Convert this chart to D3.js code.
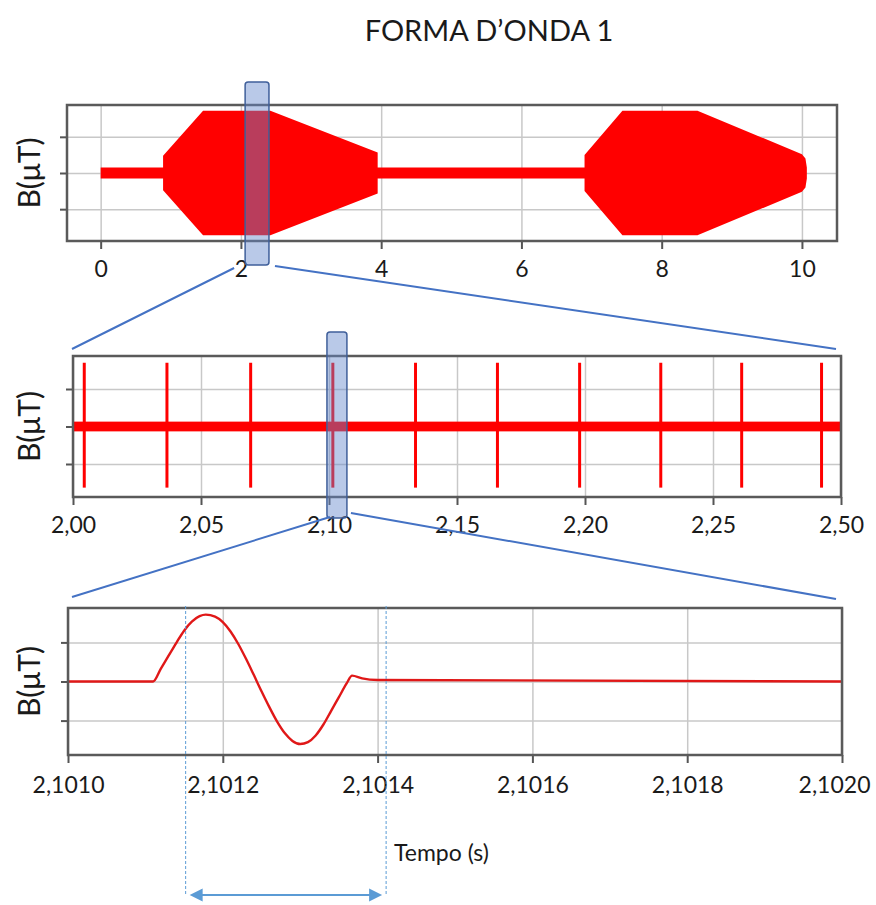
<!DOCTYPE html>
<html>
<head>
<meta charset="utf-8">
<script src="https://cdn.jsdelivr.net/npm/d3@7"></script>
<style>
  body { margin: 0; background: #fff; }
  text { font-family: Lato, "Noto Sans", sans-serif; fill: #1a1a1a; }
</style>
</head>
<body>
<script>
// panel 1: envelope of the burst signal (half amplitude, symmetric)
var envTime = [0, 0.89, 0.89, 1.46, 2.42, 3.95, 3.95, 6.9, 6.9, 7.44, 8.51, 10.0, 10.05, 10.07];
var envAmp  = [0.15, 0.15, 0.48, 1.72, 1.72, 0.57, 0.15, 0.15, 0.5, 1.72, 1.72, 0.52, 0.4, 0.15];
var ticks1  = [0, 2, 4, 6, 8, 10];
var labels1 = ["0", "2", "4", "6", "8", "10"];

// panel 2: single pulses on the baseline
var pulseTime = [2.0044, 2.0367, 2.0694, 2.1015, 2.1338, 2.1658, 2.1979, 2.2296, 2.2612, 2.2924];
var pulseTop = 1.7, pulseBottom = -1.63;
var noise2 = 0.13;
var ticks2  = [2.00, 2.05, 2.10, 2.15, 2.20, 2.25, 2.30];
var labels2 = ["2,00", "2,05", "2,10", "2,15", "2,20", "2,25", "2,50"];

// panel 3: one pulse
var waveTime = [2.10100, 2.10111, 2.10112, 2.10113, 2.10114, 2.10115, 2.10116, 2.10117, 2.101178,
                2.10119, 2.10120, 2.10121, 2.10122, 2.10123, 2.10124, 2.10125, 2.10126, 2.10127,
                2.10128, 2.10129, 2.10130, 2.10131, 2.10132, 2.10133, 2.10134, 2.10135, 2.10136,
                2.101367, 2.10138, 2.10140, 2.10200];
var waveVal  = [0, 0, 0.33, 0.66, 0.99, 1.30, 1.53, 1.67, 1.71,
                1.66, 1.52, 1.28, 0.96, 0.58, 0.17, -0.25, -0.65, -1.02,
                -1.32, -1.52, -1.60, -1.55, -1.38, -1.10, -0.75, -0.40, -0.05,
                0.15, 0.08, 0.04, 0];
var ticks3  = [2.1010, 2.1012, 2.1014, 2.1016, 2.1018, 2.1020];
var labels3 = ["2,1010", "2,1012", "2,1014", "2,1016", "2,1018", "2,1020"];
var markTime = [2.101152, 2.101411];

// zoom windows
var hl1 = [2.06, 2.40];
var hl2 = [2.0992, 2.1070];

var yTicks = [-1, 0, 1];
var yDomain = [-1.88, 1.88];

var svg = d3.select("body").append("svg")
  .attr("width", 876)
  .attr("height", 905);

svg.append("text")
  .attr("x", 489).attr("y", 41)
  .attr("text-anchor", "middle")
  .style("font-size", "29px")
  .text("FORMA D\u2019ONDA 1");

function makePanel(o) {
  var x = d3.scaleLinear().domain(o.xDomain).range([o.left, o.right]);
  var y = d3.scaleLinear().domain(yDomain).range([o.bottom, o.top]);
  var g = svg.append("g");

  // grid
  g.append("g")
    .attr("transform", "translate(0," + o.bottom + ")")
    .call(d3.axisBottom(x).tickValues(o.ticks).tickSize(-(o.bottom - o.top)).tickFormat(""))
    .call(function(s) { s.select(".domain").remove(); })
    .selectAll("line").attr("stroke", "#c8c8c8").attr("stroke-width", 1.5);
  g.append("g")
    .attr("transform", "translate(" + o.left + ",0)")
    .call(d3.axisLeft(y).tickValues(yTicks).tickSize(-(o.right - o.left)).tickFormat(""))
    .call(function(s) { s.select(".domain").remove(); })
    .selectAll("line").attr("stroke", "#c8c8c8").attr("stroke-width", 1.5);

  // outer ticks + labels
  var xa = g.append("g")
    .attr("transform", "translate(0," + o.bottom + ")")
    .call(d3.axisBottom(x).tickValues(o.ticks).tickSize(8).tickPadding(o.pad)
      .tickFormat(function(d, i) { return o.labels[i]; }));
  xa.select(".domain").remove();
  xa.selectAll("line").attr("stroke", "#555").attr("stroke-width", 2);
  xa.selectAll("text").style("font-size", "23px").attr("fill", "#1a1a1a");
  // keep the last label inside the page
  xa.selectAll("text").filter(function(d, i) { return i === o.ticks.length - 1; })
    .attr("dx", o.lastShift || 0);

  var ya = g.append("g")
    .attr("transform", "translate(" + o.left + ",0)")
    .call(d3.axisLeft(y).tickValues(yTicks).tickSize(7).tickFormat(""));
  ya.select(".domain").remove();
  ya.selectAll("line").attr("stroke", "#555").attr("stroke-width", 2);

  g.append("text")
    .attr("transform", "translate(40," + ((o.top + o.bottom) / 2) + ") rotate(-90)")
    .attr("text-anchor", "middle")
    .style("font-size", "30px")
    .text("B(\u03bcT)");

  return { x: x, y: y, g: g, o: o };
}

function frame(p) {
  p.g.append("rect")
    .attr("x", p.o.left).attr("y", p.o.top)
    .attr("width", p.o.right - p.o.left).attr("height", p.o.bottom - p.o.top)
    .attr("fill", "none").attr("stroke", "#5a5a5a").attr("stroke-width", 2.5);
}

function highlight(p, range, top, bottom) {
  svg.append("rect")
    .attr("x", p.x(range[0])).attr("y", top)
    .attr("width", p.x(range[1]) - p.x(range[0])).attr("height", bottom - top)
    .attr("rx", 3)
    .attr("fill", "rgb(100,135,205)").attr("fill-opacity", 0.45)
    .attr("stroke", "#3f5f9a").attr("stroke-width", 1.5);
}

function connector(x1, y1, x2, y2) {
  svg.append("line")
    .attr("x1", x1).attr("y1", y1).attr("x2", x2).attr("y2", y2)
    .attr("stroke", "#4472c4").attr("stroke-width", 2);
}

// ---------- panel 1
var p1 = makePanel({ left: 67, right: 837, top: 105, bottom: 241, xDomain: [-0.48, 10.5],
  ticks: ticks1, labels: labels1, pad: 12 });
var env = envTime.map(function(t, i) { return { t: t, a: envAmp[i] }; });
p1.g.append("path")
  .datum(env)
  .attr("fill", "#ff0000")
  .attr("d", d3.area()
    .x(function(d) { return p1.x(d.t); })
    .y0(function(d) { return p1.y(-d.a); })
    .y1(function(d) { return p1.y(d.a); }));
frame(p1);

// ---------- panel 2
var p2 = makePanel({ left: 73, right: 841, top: 356, bottom: 497, xDomain: [2.0, 2.3],
  ticks: ticks2, labels: labels2, pad: 12 });
p2.g.append("rect")
  .attr("x", p2.x(2.0)).attr("y", p2.y(noise2))
  .attr("width", p2.x(2.3) - p2.x(2.0)).attr("height", p2.y(-noise2) - p2.y(noise2))
  .attr("fill", "#ff0000");
p2.g.selectAll(".pulse")
  .data(pulseTime)
  .enter().append("line")
  .attr("x1", function(d) { return p2.x(d); })
  .attr("x2", function(d) { return p2.x(d); })
  .attr("y1", p2.y(pulseTop))
  .attr("y2", p2.y(pulseBottom))
  .attr("stroke", "#ff0000").attr("stroke-width", 3);
frame(p2);

// ---------- panel 3
var p3 = makePanel({ left: 68, right: 842, top: 608, bottom: 755, xDomain: [2.1010, 2.1020],
  ticks: ticks3, labels: labels3, pad: 14, lastShift: -8 });
var wave = waveTime.map(function(t, i) { return { t: t, v: waveVal[i] }; });
p3.g.append("path")
  .datum(wave)
  .attr("fill", "none")
  .attr("stroke", "#e01818")
  .attr("stroke-width", 2.4)
  .attr("stroke-linejoin", "round")
  .attr("d", d3.line()
    .curve(d3.curveMonotoneX)
    .x(function(d) { return p3.x(d.t); })
    .y(function(d) { return p3.y(d.v); }));
frame(p3);

// ---------- zoom windows and connectors
highlight(p1, hl1, 82, 265);
connector(p1.x(hl1[0]) - 11, 268, p2.o.left - 1, 349);
connector(p1.x(hl1[1]) + 6, 266, p2.o.right - 5, 349);

highlight(p2, hl2, 332, 518);
connector(p2.x(hl2[0]) + 3, 517, p3.o.left + 4, 597);
connector(p2.x(hl2[1]) + 4, 513, p3.o.right - 6, 599);

// ---------- duration marker
svg.selectAll(".mark")
  .data(markTime)
  .enter().append("line")
  .attr("x1", function(d) { return p3.x(d); })
  .attr("x2", function(d) { return p3.x(d); })
  .attr("y1", 606).attr("y2", 896)
  .attr("stroke", "#5b9bd5").attr("stroke-width", 1)
  .attr("stroke-dasharray", "3,2");

var ax0 = p3.x(markTime[0]) + 4, ax1 = p3.x(markTime[1]) - 4, ay = 895;
svg.append("line")
  .attr("x1", ax0 + 10).attr("x2", ax1 - 10).attr("y1", ay).attr("y2", ay)
  .attr("stroke", "#5b9bd5").attr("stroke-width", 2);
svg.append("path")
  .attr("d", "M" + ax0 + "," + ay + "l13,-6.5v13z M" + ax1 + "," + ay + "l-13,-6.5v13z")
  .attr("fill", "#5b9bd5");

svg.append("text")
  .attr("x", 394).attr("y", 861)
  .style("font-size", "23px")
  .text("Tempo (s)");
</script>
</body>
</html>
